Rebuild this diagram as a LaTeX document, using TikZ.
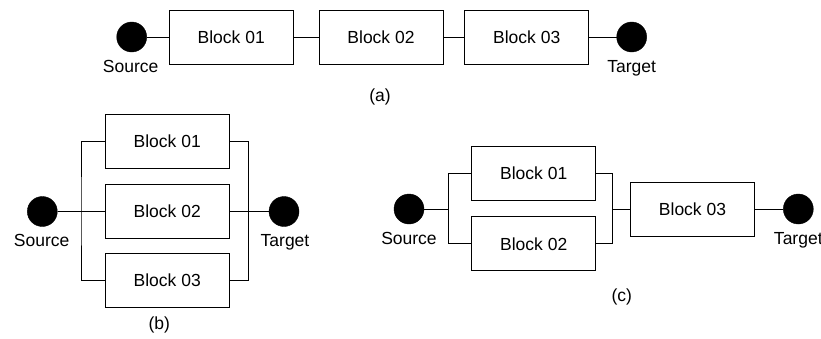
\documentclass[tikz,border=0pt]{standalone}
\usepackage{fontspec}
\setmainfont{Liberation Sans}
\begin{document}
\begin{tikzpicture}[x=1pt,y=-1pt,
  every node/.style={font=\fontsize{17.5}{20}\selectfont},
  block/.style={draw,line width=1pt,minimum width=124pt,minimum height=54pt,inner sep=0pt},
  term/.style={circle,fill=black,draw=black,minimum size=30pt,inner sep=0pt},
  tag/.style={anchor=base,inner sep=0pt},
  wire/.style={line width=1pt}]
\useasboundingbox (0,0) rectangle (821,338);

% (a) series chain
\node[term]  (aS)  at (131.7,37) {};
\node[block] (a1)  at (231.2,37) {Block 01};
\node[block] (a2)  at (381,37)   {Block 02};
\node[block] (a3)  at (526.7,37) {Block 03};
\node[term]  (aT)  at (631.7,37) {};
\node[tag]   (aSl) at (130.7,72.5) {Source};
\node[tag]   (aTl) at (631.7,72.5) {Target};
\node[tag]   (aL)  at (380,101)   {(a)};
\draw[wire] (aS) -- (a1);
\draw[wire] (a1) -- (a2);
\draw[wire] (a2) -- (a3);
\draw[wire] (a3) -- (aT);

% (b) three blocks in parallel
\node[term]  (bS)  at (42.3,211.5) {};
\node[block] (b1)  at (167.2,141.2) {Block 01};
\node[block] (b2)  at (167.2,211.5) {Block 02};
\node[block] (b3)  at (167.2,280.5) {Block 03};
\node[term]  (bT)  at (284,211.5) {};
\node[tag]   (bSl) at (41.7,246.7) {Source};
\node[tag]   (bTl) at (285,246.7) {Target};
\node[tag]   (bL)  at (159.3,329.6) {(b)};
\coordinate (bl) at (81,211.5);
\coordinate (br) at (248.3,211.5);
\draw[wire] (bS) -- (b2);
\draw[wire] (b2) -- (bT);
\draw[wire] (b1.west) -| (bl) |- (b3.west);
\draw[wire] (b1.east) -| (br) |- (b3.east);

% (c) parallel pair followed by a series block
\node[term]  (cS)  at (409,209) {};
\node[block] (c1)  at (533.7,173.3) {Block 01};
\node[block] (c2)  at (533.7,243.8) {Block 02};
\node[block] (c3)  at (692.5,209) {Block 03};
\node[term]  (cT)  at (798.3,209) {};
\node[tag]   (cSl) at (409,244) {Source};
\node[tag]   (cTl) at (798.3,244) {Target};
\node[tag]   (cL)  at (621.7,301.3) {(c)};
\coordinate (cl) at (448.3,209);
\coordinate (cr) at (612.7,209);
\draw[wire] (cS) -- (cl);
\draw[wire] (c1.west) -| (cl) |- (c2.west);
\draw[wire] (c1.east) -| (cr) |- (c2.east);
\draw[wire] (cr) -- (c3);
\draw[wire] (c3) -- (cT);
\end{tikzpicture}
\end{document}
